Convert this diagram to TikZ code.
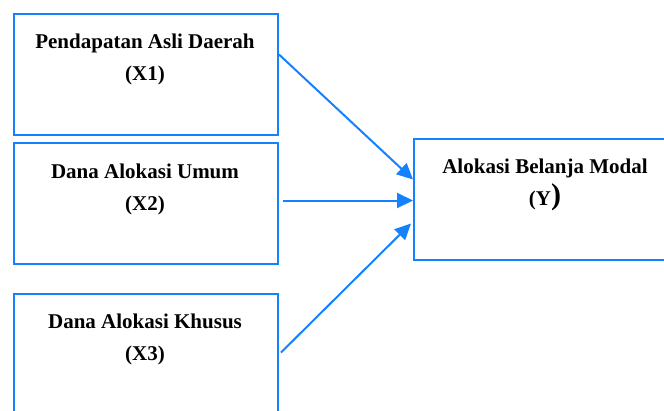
\documentclass[tikz,border=0pt]{standalone}
\usepackage{fontspec}
\setmainfont{Liberation Serif}
\usetikzlibrary{arrows.meta}
\definecolor{lineblue}{RGB}{20,130,255}
\begin{document}
\begin{tikzpicture}[x=1pt,y=-1pt,
  box/.style={draw=lineblue,line width=2pt,minimum width=264pt,minimum height=121pt,anchor=north west,inner sep=0pt},
  lbl/.style={font=\bfseries\fontsize{21}{32}\selectfont,align=center,anchor=base,inner sep=0pt},
  conn/.style={draw=lineblue,line width=2pt,-{Triangle[length=16pt,width=15pt]}}]
\clip (0,0) rectangle (664,410);
\node[box] (x1) at (13,13) {};
\node[box] (x2) at (13,142) {};
\node[box] (x3) at (13,293) {};
\node[box] (y) at (413,138) {};
\node[lbl] (t1) at (145,80) {Pendapatan Asli Daerah\\(X1)};
\node[lbl] (t2) at (145,210) {Dana Alokasi Umum\\(X2)};
\node[lbl] (t3) at (145,360) {Dana Alokasi Khusus\\(X3)};
\node[lbl] (ty) at (545,205) {Alokasi Belanja Modal\\(Y{\fontsize{30}{32}\selectfont\raisebox{1pt}{)}}};
\draw[conn] ([yshift=20pt]x1.east) -- ([yshift=20pt]y.west);
\draw[conn] ([xshift=4pt,yshift=3pt]x2.east) -- ([yshift=-1pt]y.west);
\draw[conn] ([xshift=2pt,yshift=2pt]x3.east) -- ([xshift=-2pt,yshift=-24pt]y.west);
\end{tikzpicture}
\end{document}
